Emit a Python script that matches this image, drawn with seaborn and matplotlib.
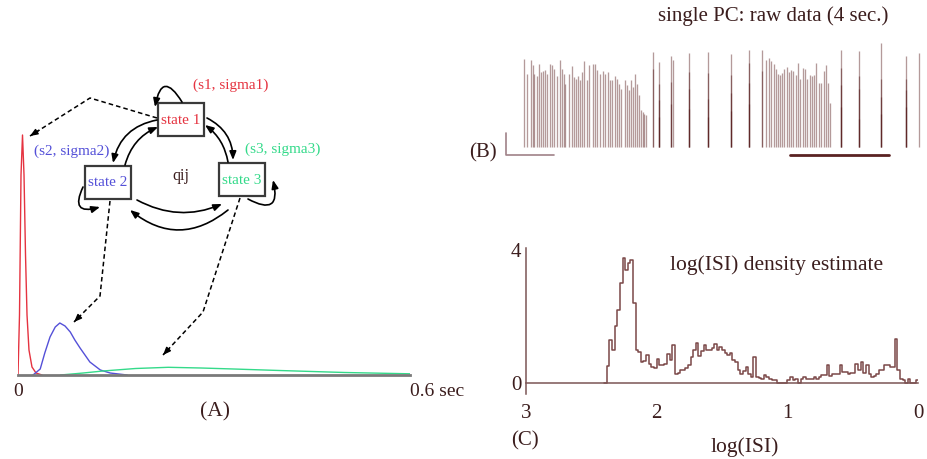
import numpy as np
import pandas as pd
import matplotlib.pyplot as plt
import seaborn as sns
from matplotlib.patches import Rectangle

# -----------------------------
# data
# -----------------------------
# (A) ISI densities of the three hidden states, time in sec
red_t = [0.0, 0.0023, 0.0046, 0.0069, 0.0092, 0.0115, 0.0138, 0.0168, 0.0214, 0.0276, 0.0367]
red_y = [0, 60, 200, 240, 200, 120, 60, 25, 8, 2, 0]
blue_t = [0.023, 0.034, 0.041, 0.049, 0.057, 0.064, 0.072, 0.080, 0.087, 0.095, 0.110, 0.126, 0.141, 0.167]
blue_y = [0, 6, 22, 38, 48, 52, 49, 43, 35, 27, 13, 5, 2, 0]
green_t = [0.065, 0.10, 0.13, 0.18, 0.23, 0.28, 0.33, 0.40, 0.50, 0.60]
green_y = [0, 2, 4, 6.5, 7.7, 7, 6, 4.5, 2.5, 1.2]

# (B) spike train, 4 sec (time in sec, spike height in arbitrary units)
burst1_t = [0.200, 0.226, 0.264, 0.283, 0.298, 0.321, 0.340, 0.365, 0.384, 0.403,
            0.422, 0.450, 0.470, 0.489, 0.511, 0.543, 0.562, 0.581, 0.593, 0.629,
            0.657, 0.676, 0.695, 0.714, 0.733, 0.755, 0.774, 0.800, 0.822, 0.857,
            0.876, 0.898, 0.921, 0.955, 0.974, 0.997, 1.019, 1.038, 1.064, 1.083,
            1.102, 1.121, 1.159, 1.178, 1.197, 1.219, 1.235, 1.254, 1.273, 1.292,
            1.314, 1.330, 1.346, 1.362]
burst1_h = [88, 73, 87, 82, 73, 71, 83, 75, 76, 77,
            73, 83, 82, 78, 71, 87, 78, 73, 63, 73,
            81, 70, 68, 71, 67, 75, 86, 67, 82, 83,
            83, 77, 73, 76, 73, 75, 67, 67, 71, 68,
            63, 58, 67, 62, 57, 67, 60, 73, 63, 52,
            37, 35, 33, 32]
burst2_t = [2.464, 2.464, 2.508, 2.533, 2.556, 2.581, 2.600, 2.622, 2.641, 2.660, 2.679,
            2.705, 2.724, 2.746, 2.765, 2.788, 2.813, 2.832, 2.854, 2.876,
            2.895, 2.921, 2.940, 2.959, 2.984, 3.006, 3.029, 3.054, 3.073,
            3.098, 3.114]
burst2_h = [97, 76, 87, 89, 86, 83, 78, 73, 72, 74, 78,
            80, 75, 77, 76, 72, 84, 68, 79, 78,
            68, 72, 71, 72, 84, 64, 64, 76, 82,
            64, 44]
# isolated complex events: several overlapping spikes at the same time
single_t = [1.426, 1.426, 1.486, 1.486, 1.486, 1.486,
            1.597, 1.597, 1.597, 1.619,
            1.771, 1.771, 1.771, 1.771,
            1.955, 1.955, 1.955, 1.955,
            2.168, 2.168, 2.168, 2.168,
            2.343, 2.343, 2.343, 2.343,
            3.216, 3.216, 3.216, 3.216,
            3.393, 3.393, 3.393, 3.393,
            3.597, 3.597, 3.597, 3.597,
            3.838, 3.838, 3.838, 3.838,
            3.959]
single_h = [95, 78, 85, 63, 47, 30,
            91, 65, 43, 87,
            94, 75, 58, 38,
            95, 74, 48, 30,
            93, 72, 54, 36,
            97, 84, 64, 43,
            97, 79, 62, 40,
            96, 71, 58, 28,
            104, 68, 50, 33,
            91, 68, 57, 40,
            94]

# (C) log(ISI) density, bins of 0.02 going from log 2.40 down to 0
isi_density = [0, 0.5, 1.3, 1.0, 1.7, 2.2, 3.0, 3.75, 3.4, 3.6, 3.7, 2.4, 1.0,
               0.93, 0.63, 0.65, 0.85, 0.58, 0.48, 0.45, 0.73, 0.55, 0.53,
               0.58, 0.88, 0.68, 1.13, 0.28, 0.3, 0.38, 0.4, 0.45, 0.55,
               0.78, 0.98, 1.2, 0.8, 0.95, 1.13, 0.98, 1.0, 1.05, 1.18,
               0.98, 1.08, 0.98, 0.9, 0.83, 0.9, 0.7, 0.63, 0.38, 0.28,
               0.35, 0.48, 0.28, 0.18, 0.78, 0.18, 0.15, 0.13, 0.23, 0.18,
               0.12, 0.08, 0.08, 0, 0, 0, 0, 0.1, 0.18, 0.08,
               0.13, 0, 0.13, 0.18, 0.13, 0.13, 0.13, 0.18, 0.13, 0.18,
               0.23, 0.23, 0.53, 0.2, 0.28, 0.28, 0.28, 0.53, 0.33, 0.33,
               0.28, 0.3, 0.3, 0.58, 0.38, 0.63, 0.3, 0.53, 0.28, 0.18,
               0.2, 0.28, 0.38, 0.38, 0.53, 0.53, 0.48, 0.48, 1.33, 0.38,
               0.13, 0.1, 0, 0.13, 0, 0, 0.1]
isi_binwidth = 0.02
isi_xticks = [3, 2, 1, 0]

# -----------------------------
# style
# -----------------------------
sns.set_style('white')
plt.rcParams['font.family'] = ['Liberation Serif', 'DejaVu Serif']

RED, BLUE, GREEN = '#e53340', '#5450d8', '#34da8a'
TXT = '#3b1d1d'
SPIKE = '#4d0f0f'
HIST = '#7b4848'

W, H = 927, 459
fig = plt.figure(figsize=(W / 100, H / 100), dpi=100)


def box(x0, y0, x1, y1):
    # pixel box (top-left origin) -> figure fraction rect
    return [x0 / W, 1 - y1 / H, (x1 - x0) / W, (y1 - y0) / H]


# -----------------------------
# (A) state densities
# -----------------------------
axA = fig.add_axes(box(18, 125, 410, 375))
dfA = pd.concat([
    pd.DataFrame({'t': red_t, 'dens': red_y, 'state': 'state 1'}),
    pd.DataFrame({'t': blue_t, 'dens': blue_y, 'state': 'state 2'}),
    pd.DataFrame({'t': green_t, 'dens': green_y, 'state': 'state 3'}),
])
sns.lineplot(data=dfA, x='t', y='dens', hue='state', estimator=None, sort=False,
             palette={'state 1': RED, 'state 2': BLUE, 'state 3': GREEN},
             lw=1.0, legend=False, ax=axA)
axA.set_xlim(0, 0.6)
axA.set_ylim(0, 250)
for s in ['top', 'right', 'left']:
    axA.spines[s].set_visible(False)
axA.spines['bottom'].set_color('#7a7a7a')
axA.spines['bottom'].set_linewidth(2.0)
axA.set_xticks([0, 0.6])
axA.set_xticklabels(['0', '0.6 sec'], fontsize=14, color=TXT)
axA.get_xticklabels()[1].set_ha('left')
axA.tick_params(axis='x', length=0, pad=6)
axA.set_yticks([])
axA.set_xlabel('')
axA.set_ylabel('')
axA.patch.set_alpha(0)

# -----------------------------
# (B) raw spike train
# -----------------------------
axB = fig.add_axes(box(503, 37, 923, 159))
spike_t = burst1_t + single_t + burst2_t
spike_h = burst1_h + single_h + burst2_h
axB.vlines(spike_t, 0, spike_h, colors=SPIKE, alpha=0.42, lw=0.95)
# scale bars
axB.plot([0.03, 0.03, 0.49], [14, -8, -8], color='#a08288', lw=1.2)
axB.plot([2.73, 3.68], [-8, -8], color='#5a2222', lw=2.0)
axB.set_xlim(0, 4)
axB.set_ylim(-12, 110)
axB.axis('off')

# -----------------------------
# (C) log(ISI) histogram
# -----------------------------
axC = fig.add_axes(box(525.7, 248, 918.3, 393.6))
n_bins = len(isi_density)
top_edge = n_bins * isi_binwidth
dfC = pd.DataFrame({
    'logisi': top_edge - isi_binwidth * (np.arange(n_bins) + 0.5),
    'density': isi_density,
})
sns.histplot(data=dfC, x='logisi', weights='density', binwidth=isi_binwidth,
             binrange=(0, top_edge), element='step', fill=False, color=HIST,
             lw=1.1, ax=axC)
axC.set_xlim(3, 0)
axC.set_ylim(-0.32, 4.06)
axC.spines['top'].set_visible(False)
axC.spines['right'].set_visible(False)
axC.spines['bottom'].set_position(('data', 0))
for s in ['left', 'bottom']:
    axC.spines[s].set_color('#7b5555')
    axC.spines[s].set_linewidth(1.1)
axC.set_xticks(isi_xticks)
axC.set_xticklabels([str(v) for v in isi_xticks], fontsize=15, color=TXT)
axC.tick_params(axis='x', direction='out', length=7.5, width=1.1, color='#7b5555', pad=8)
axC.set_yticks([0, 4])
axC.set_yticklabels(['0', '4'], fontsize=15, color=TXT)
axC.tick_params(axis='y', length=0, pad=3)
axC.set_xlabel('')
axC.set_ylabel('')
axC.patch.set_alpha(0)

# -----------------------------
# overlay: HMM diagram and labels (pixel coords)
# -----------------------------
ov = fig.add_axes([0, 0, 1, 1], zorder=5)
ov.set_xlim(0, W)
ov.set_ylim(H, 0)
ov.axis('off')

states = [('state 1', 158, 103, RED), ('state 2', 85, 166, BLUE), ('state 3', 219, 163, GREEN)]
for name, x0, y0, col in states:
    ov.add_patch(Rectangle((x0, y0), 46, 33, fill=True, facecolor='white',
                           edgecolor='#3a3a3a', lw=1.6))
    ov.text(x0 + 23, y0 + 17, name, color=col, fontsize=11, ha='center', va='center')

ov.text(231, 85, '(s1, sigma1)', color=RED, fontsize=11, ha='center', va='center')
ov.text(72, 151, '(s2, sigma2)', color=BLUE, fontsize=11, ha='center', va='center')
ov.text(283, 149, '(s3, sigma3)', color=GREEN, fontsize=11, ha='center', va='center')
ov.text(181, 176, 'qij', color=TXT, fontsize=11.5, ha='center', va='center')

# transition arrows
arc = dict(arrowstyle='-|>,head_length=0.5,head_width=0.2', color='black', lw=1.2,
           shrinkA=0, shrinkB=0)
trans = [((157, 120), (113, 163), 0.33), ((125, 165), (158, 127), -0.24),
         ((207, 118), (233, 160), -0.3), ((228, 162), (205, 125), 0.2),
         ((137, 200), (222, 204), 0.24), ((228, 210), (130, 210), -0.4),
         ((182, 102), (155, 107), 1.3), ((83, 187), (100, 207), 1.1),
         ((248, 199), (273, 180), 1.1)]
for start, end, rad in trans:
    ov.annotate('', xy=end, xytext=start,
                arrowprops=dict(connectionstyle=f'arc3,rad={rad}', **arc))

# dashed arrows from states to their densities
dashed = [[(157, 118), (90, 98), (30, 136)],
          [(110, 201), (100, 296), (74, 322)],
          [(240, 198), (203, 312), (163, 355)]]
for pts in dashed:
    xs, ys = zip(*pts)
    ov.plot(xs, ys, color='black', lw=1.1, ls=(0, (3, 2)))
    (xa, ya), (xb, yb) = pts[-2], pts[-1]
    ov.annotate('', xy=(xb, yb), xytext=(xb - (xb - xa) * 0.15, yb - (yb - ya) * 0.15),
                arrowprops=dict(arrowstyle='-|>,head_length=0.45,head_width=0.18',
                                color='black', lw=1.0, shrinkA=0, shrinkB=0))

# panel labels and titles
ov.text(215, 412, '(A)', color=TXT, fontsize=15.5, ha='center', va='center')
ov.text(483, 153, '(B)', color=TXT, fontsize=15, ha='center', va='center')
ov.text(773, 16, 'single PC: raw data (4 sec.)', color=TXT, fontsize=15, ha='center', va='center')
ov.text(777, 265, 'log(ISI) density estimate', color=TXT, fontsize=15.5, ha='center', va='center')
ov.text(525, 441, '(C)', color=TXT, fontsize=15, ha='center', va='center')
ov.text(745, 447, 'log(ISI)', color=TXT, fontsize=15.5, ha='center', va='center')

fig.savefig('out.png', dpi=100)
